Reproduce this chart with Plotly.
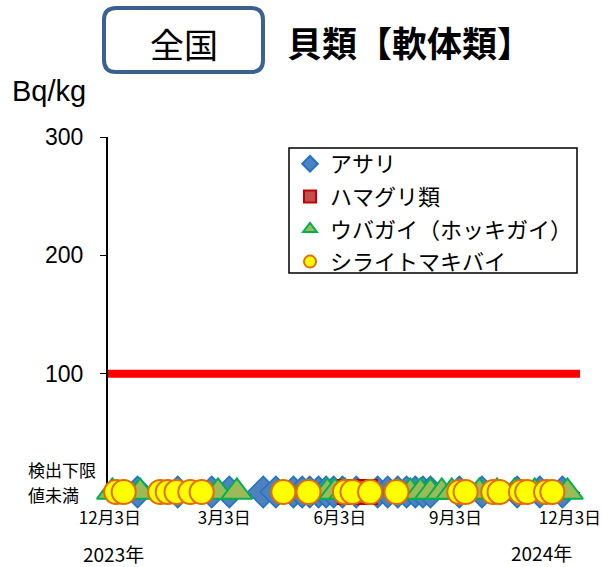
import plotly.graph_objects as go

# ---- data (all values below detection limit, plotted at 0) ----
asari_dates = ["2023-12-25", "2024-01-26", "2024-02-22", "2024-03-07", "2024-04-03",
               "2024-04-13", "2024-04-27", "2024-05-04", "2024-05-10", "2024-05-17",
               "2024-05-23", "2024-05-29", "2024-06-05", "2024-06-16", "2024-07-03",
               "2024-07-11", "2024-07-19", "2024-07-26", "2024-08-02", "2024-08-08",
               "2024-08-14", "2024-09-06", "2024-09-24", "2024-10-22", "2024-11-09",
               "2024-11-27"]
asari_vals = [0] * len(asari_dates)

hamaguri_dates = ["2024-06-11", "2024-06-23"]
hamaguri_vals = [0] * len(hamaguri_dates)

ubagai_dates = ["2023-12-05", "2023-12-27", "2024-02-27", "2024-03-13", "2024-05-24",
                "2024-05-30", "2024-06-07", "2024-07-29", "2024-08-06", "2024-08-14",
                "2024-08-23", "2024-08-31", "2024-09-22", "2024-10-06", "2024-10-20",
                "2024-11-05", "2024-12-01"]
ubagai_vals = [0] * len(ubagai_dates)

shiraito_dates = ["2023-12-08", "2023-12-14", "2024-01-12", "2024-01-18", "2024-01-25",
                  "2024-02-05", "2024-02-14", "2024-04-19", "2024-05-09", "2024-06-07",
                  "2024-06-13", "2024-06-27", "2024-07-18", "2024-09-06", "2024-09-11",
                  "2024-10-03", "2024-10-08", "2024-10-25", "2024-10-30", "2024-11-14",
                  "2024-11-19"]
shiraito_vals = [0] * len(shiraito_dates)

series_names = ["アサリ", "ハマグリ類", "ウバガイ（ホッキガイ）", "シライトマキバイ"]
tick_dates = ["2023-12-03", "2024-03-03", "2024-06-03", "2024-09-03", "2024-12-03"]
tick_labels = ["12月3日", "3月3日", "6月3日", "9月3日", "12月3日"]
y_tickvals = [100, 200, 300]
y_ticktext = ["100", "200", "300"]
nd_label_lines = ["検出下限", "値未満"]
limit_value = 100

JP = "Noto Sans CJK JP"
LAT = "Liberation Sans, Noto Sans CJK JP"

W, H = 602, 567
L, R, T, B = 108, 22, 137, 75
PW, PH = W - L - R, H - T - B


def px(x):  # page pixel -> paper
    return (x - L) / PW


def py(y):
    return (H - B - y) / PH


fig = go.Figure()
fig.add_trace(go.Scatter(x=asari_dates, y=asari_vals, mode="markers", name=series_names[0],
                         legendgroup="a",
                         marker=dict(symbol="diamond", size=24, color="#4F81BD",
                                     line=dict(color="#1F74C6", width=1.5)),
                         cliponaxis=False))
fig.add_trace(go.Scatter(x=hamaguri_dates, y=hamaguri_vals, mode="markers", name=series_names[1],
                         legendgroup="b",
                         marker=dict(symbol="square", size=24, color="#C0504D",
                                     line=dict(color="#C00000", width=2)),
                         cliponaxis=False))
fig.add_trace(go.Scatter(x=ubagai_dates, y=ubagai_vals, mode="markers", name=series_names[2],
                         legendgroup="c",
                         marker=dict(symbol="triangle-up", size=27, color="#9BBB59",
                                     line=dict(color="#00B050", width=2)),
                         cliponaxis=False))
fig.add_trace(go.Scatter(x=shiraito_dates, y=shiraito_vals, mode="markers", name=series_names[3],
                         legendgroup="d",
                         marker=dict(symbol="circle", size=24, color="#FFFF00",
                                     line=dict(color="#E46C0A", width=2)),
                         cliponaxis=False))

# reference line at 100
fig.add_shape(type="line", xref="paper", yref="y", x0=0, x1=1, y0=limit_value, y1=limit_value,
              line=dict(color="#FF0000", width=8), layer="below")

# small tick mark at zero on the y axis
fig.add_shape(type="line", xref="paper", yref="y", x0=px(102), x1=px(108), y0=0, y1=0,
              line=dict(color="black", width=2), layer="below")

# legend frame
fig.add_shape(type="rect", xref="paper", yref="paper", x0=px(289), x1=px(577),
              y0=py(273), y1=py(148), fillcolor="white",
              line=dict(color="black", width=1.5), layer="below")

# rounded title box
x0, x1, y0, y1, r = px(104), px(263), py(72), py(8), 12
rx, ry = r / PW, r / PH
path = (f"M {x0+rx},{y1} L {x1-rx},{y1} Q {x1},{y1} {x1},{y1-ry} "
        f"L {x1},{y0+ry} Q {x1},{y0} {x1-rx},{y0} L {x0+rx},{y0} "
        f"Q {x0},{y0} {x0},{y0+ry} L {x0},{y1-ry} Q {x0},{y1} {x0+rx},{y1} Z")
fig.add_shape(type="path", xref="paper", yref="paper", path=path,
              line=dict(color="#3C6191", width=4))

annotations = [
    dict(x=px(184), y=py(44), text="全国", xanchor="center",
         font=dict(family=JP, size=34, color="black")),
    dict(x=px(409), y=py(42), text="<b>貝類【軟体類】</b>", xanchor="center",
         font=dict(family=JP, size=35, color="black")),
    dict(x=px(11), y=py(91), text="Bq/kg", xanchor="left",
         font=dict(family=LAT, size=29, color="black")),
    dict(x=px(27), y=py(469), text=nd_label_lines[0], xanchor="left",
         font=dict(family=JP, size=17, color="black")),
    dict(x=px(27), y=py(494), text=nd_label_lines[1], xanchor="left",
         font=dict(family=JP, size=17, color="black")),
    dict(x=px(113), y=py(553), text="2023年", xanchor="center",
         font=dict(family=JP, size=19, color="black")),
    dict(x=px(541), y=py(552), text="2024年", xanchor="center",
         font=dict(family=JP, size=19, color="black")),
]
for a in annotations:
    a.update(xref="paper", yref="paper", showarrow=False, yanchor="middle", borderpad=0)
fig.update_layout(annotations=annotations)

fig.update_layout(
    width=W, height=H,
    margin=dict(l=L, r=R, t=T, b=B, autoexpand=False),
    paper_bgcolor="white", plot_bgcolor="white",
    showlegend=True,
    legend=dict(x=px(290), y=py(143), xanchor="left", yanchor="top",
                bgcolor="rgba(0,0,0,0)", borderwidth=0,
                font=dict(family=JP, size=22, color="black"),
                itemsizing="constant",
                itemwidth=30, tracegroupgap=1),
    xaxis=dict(type="date", range=["2023-12-01 12:00", "2024-12-11"],
               tickvals=tick_dates, ticktext=tick_labels,
               tickfont=dict(family=JP, size=17, color="black"),
               showline=True, linecolor="black", linewidth=2,
               ticks="outside", ticklen=5, tickcolor="black",
               ticklabelstandoff=5, automargin=False,
               showgrid=False, zeroline=False, layer="below traces"),
    yaxis=dict(range=[0, 300], tickvals=y_tickvals, ticktext=y_ticktext,
               tickfont=dict(family=LAT, size=23, color="black"),
               showline=True, linecolor="black", linewidth=2,
               ticks="outside", ticklen=6, tickcolor="black",
               ticklabelstandoff=12, automargin=False,
               showgrid=False, zeroline=False, layer="below traces"),
)

fig.write_html("out.html", config={"displayModeBar": False},
               post_script="document.body.style.margin='0';document.body.style.overflow='hidden';")
